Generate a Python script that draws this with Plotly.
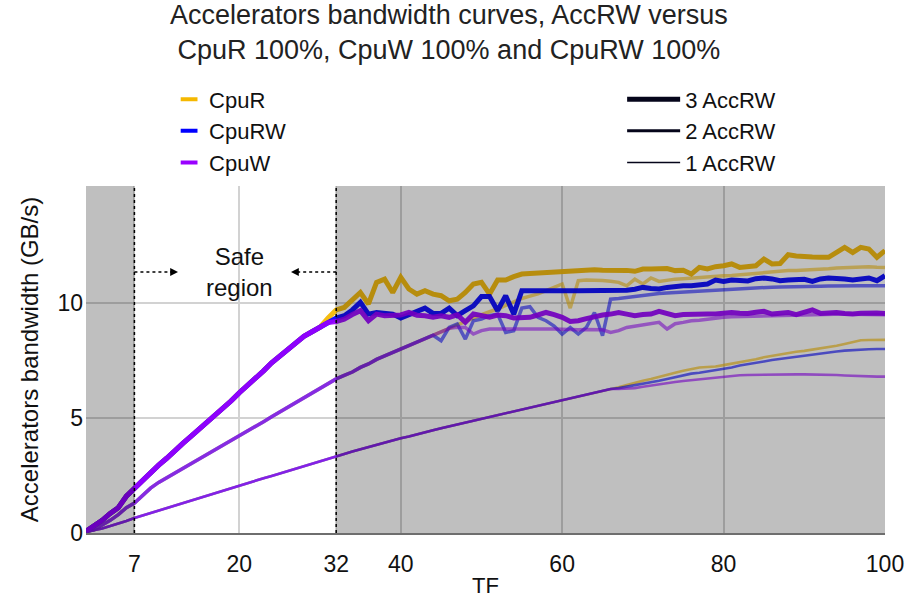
import plotly.graph_objects as go

# ---------------- data ----------------
tf = list(range(1, 101))
x_ticks = [7, 20, 32, 40, 60, 80, 100]
y_ticks = [0, 5, 10]
safe_start, safe_end = 7, 32

series_names = ["CpuR", "CpuRW", "CpuW"]
acc_names = ["3 AccRW", "2 AccRW", "1 AccRW"]

# 3 AccRW
acc3_rise = [0.08, 0.3, 0.55, 0.85, 1.1, 1.6, 1.95, 2.25, 2.6, 2.95, 3.25, 3.6, 3.9, 4.2, 4.5,
             4.8, 5.1, 5.45, 5.75, 6.1, 6.4, 6.75, 7.05, 7.4, 7.7, 8.0, 8.3, 8.55, 8.75, 8.95]
cpur_acc3_tail = [9.35, 9.7, 9.81, 10.1, 10.46, 9.96, 10.9, 11.04, 10.46, 11.12,
                  10.61, 10.39, 10.54, 10.39, 10.32, 10.1, 10.17, 10.46, 10.83, 10.9,
                  10.39, 11.0, 11.0, 11.15, 11.26, 11.28, 11.3, 11.33, 11.36, 11.4,
                  11.41, 11.43, 11.43, 11.45, 11.43, 11.44, 11.45, 11.42, 11.38, 11.48,
                  11.48, 11.5, 11.5, 11.41, 11.43, 11.26, 11.55, 11.48, 11.58, 11.62,
                  11.7, 11.55, 11.6, 11.62, 11.91, 11.7, 11.72, 12.1, 12.05, 12.01,
                  12.0, 11.99, 11.99, 12.2, 12.42, 12.2, 12.42, 12.35, 11.99, 12.28]
cpurw_acc3_tail = [9.2, 9.35, 9.45, 9.7, 10.03, 9.52, 9.59, 9.55, 9.52, 9.35,
                   9.5, 9.65, 9.78, 9.55, 9.55, 9.78, 9.45, 9.67, 9.88, 10.28,
                   10.28, 9.67, 10.32, 9.52, 10.54, 10.54, 10.53, 10.53, 10.54, 10.54,
                   10.53, 10.54, 10.54, 10.53, 10.52, 10.51, 10.54, 10.56, 10.6, 10.68,
                   10.63, 10.61, 10.68, 10.73, 10.75, 10.75, 10.8, 10.83, 11.0, 10.94,
                   11.0, 10.97, 10.96, 11.06, 11.09, 11.05, 10.97, 11.0, 11.02, 11.03,
                   10.94, 11.05, 11.09, 11.09, 11.05, 11.0, 11.06, 11.09, 10.97, 11.19]
cpuw_acc3_tail = [9.15, 9.2, 9.3, 9.5, 9.67, 9.23, 9.52, 9.45, 9.47, 9.48,
                  9.59, 9.47, 9.45, 9.38, 9.45, 9.38, 9.49, 9.16, 9.52, 9.45,
                  9.38, 9.48, 9.45, 9.35, 9.36, 9.38, 9.48, 9.59, 9.5, 9.38,
                  9.2, 9.23, 9.32, 9.41, 9.48, 9.52, 9.59, 9.52, 9.45, 9.5,
                  9.52, 9.64, 9.52, 9.45, 9.5, 9.52, 9.5, 9.52, 9.52, 9.55,
                  9.59, 9.56, 9.55, 9.6, 9.64, 9.52, 9.55, 9.59, 9.49, 9.6,
                  9.7, 9.55, 9.57, 9.59, 9.55, 9.52, 9.56, 9.59, 9.57, 9.55]

# 2 AccRW
acc2_rise = [0.05, 0.15, 0.35, 0.55, 0.8, 1.1, 1.3, 1.65, 1.95, 2.2,
             2.4, 2.6, 2.8, 3.0, 3.2, 3.4, 3.6, 3.8, 4.0, 4.2,
             4.42, 4.63, 4.84, 5.05, 5.26, 5.47, 5.68, 5.9, 6.1, 6.3,
             6.5, 6.7, 6.85, 7.0, 7.2, 7.35, 7.55, 7.7, 7.85, 8.0,
             8.15, 8.3, 8.45]
cpur_acc2_tail = [8.6, 8.75, 8.9, 9.05, 9.2, 9.38, 9.5,
                  9.62, 9.74, 9.9, 10.05, 10.2, 10.3, 10.4, 10.54, 10.7, 10.83,
                  9.78, 10.97, 11.0, 11.0, 10.98, 10.95, 10.9, 10.75, 11.04, 10.83,
                  11.09, 10.94, 11.0, 11.04, 11.06, 11.09, 11.12, 11.15, 11.19, 11.19,
                  11.2, 11.23, 11.26, 11.29, 11.33, 11.36, 11.4, 11.41, 11.42, 11.43,
                  11.45, 11.47, 11.49, 11.52, 11.54, 11.56, 11.57, 11.58, 11.56, 11.55]
cpurw_acc2_tail = [8.6, 8.36, 8.94, 9.09, 8.43, 9.23, 9.3,
                   9.45, 9.52, 8.72, 8.8, 9.78, 9.84, 9.38, 9.23, 9.0, 8.65,
                   8.94, 8.65, 8.94, 9.59, 8.58, 10.17, 10.2, 10.25, 10.3, 10.35,
                   10.4, 10.42, 10.44, 10.46, 10.48, 10.51, 10.52, 10.54, 10.56, 10.6,
                   10.61, 10.63, 10.65, 10.67, 10.68, 10.69, 10.7, 10.7, 10.71, 10.71,
                   10.72, 10.73, 10.74, 10.75, 10.75, 10.75, 10.75, 10.75, 10.75, 10.75]
cpuw_acc2_tail = [8.6, 8.75, 8.9, 8.95, 8.94, 8.65, 8.8,
                  8.87, 8.88, 8.88, 8.87, 8.87, 8.88, 8.88, 8.87, 8.87, 8.85,
                  8.85, 8.84, 8.85, 8.84, 8.84, 8.72, 8.8, 8.94, 8.99, 9.04,
                  9.09, 9.16, 8.87, 9.1, 9.16, 9.23, 9.25, 9.3, 9.33, 9.38,
                  9.4, 9.41, 9.43, 9.44, 9.45, 9.46, 9.47, 9.48, 9.48, 9.49,
                  9.5, 9.5, 9.51, 9.52, 9.52, 9.51, 9.5, 9.5, 9.49, 9.49]

# 1 AccRW
acc1_rise = [0.05, 0.12, 0.2, 0.3, 0.4, 0.52, 0.65, 0.76, 0.87, 0.97,
             1.08, 1.19, 1.3, 1.41, 1.51, 1.62, 1.73, 1.84, 1.94, 2.05,
             2.16, 2.27, 2.38, 2.48, 2.59, 2.7, 2.8, 2.91, 3.02, 3.13,
             3.24, 3.35, 3.44, 3.54, 3.64, 3.73, 3.83, 3.93, 4.02, 4.12,
             4.2, 4.3, 4.38, 4.47, 4.56, 4.64, 4.73, 4.82, 4.9, 4.99,
             5.07, 5.15, 5.23, 5.31, 5.39, 5.47, 5.55, 5.62, 5.7, 5.78,
             5.86, 5.94, 6.02, 6.1, 6.18, 6.26]
cpur_acc1_tail = [6.34, 6.44, 6.54, 6.62, 6.7, 6.8, 6.88, 6.97, 7.06, 7.14,
                  7.2, 7.22, 7.24, 7.3, 7.36, 7.44, 7.5, 7.56, 7.64, 7.7,
                  7.76, 7.84, 7.88, 7.92, 7.97, 8.03, 8.08, 8.14, 8.22, 8.3,
                  8.38, 8.39, 8.4, 8.4]
cpurw_acc1_tail = [6.3, 6.36, 6.41, 6.47, 6.55, 6.62, 6.7, 6.78, 6.86, 6.93,
                   6.97, 7.02, 7.08, 7.12, 7.2, 7.28, 7.35, 7.4, 7.46, 7.52,
                   7.57, 7.62, 7.67, 7.72, 7.77, 7.81, 7.85, 7.89, 7.93, 7.96,
                   7.98, 7.99, 8.0, 8.0]
cpuw_acc1_tail = [6.26, 6.28, 6.3, 6.36, 6.42, 6.47, 6.52, 6.57, 6.61, 6.65,
                  6.69, 6.73, 6.77, 6.8, 6.83, 6.86, 6.87, 6.88, 6.89, 6.9,
                  6.9, 6.9, 6.9, 6.9, 6.9, 6.89, 6.88, 6.87, 6.85, 6.83,
                  6.82, 6.8, 6.8, 6.8]

curves = {
    ("CpuR", "3 AccRW"): acc3_rise + cpur_acc3_tail,
    ("CpuRW", "3 AccRW"): acc3_rise + cpurw_acc3_tail,
    ("CpuW", "3 AccRW"): acc3_rise + cpuw_acc3_tail,
    ("CpuR", "2 AccRW"): acc2_rise + cpur_acc2_tail,
    ("CpuRW", "2 AccRW"): acc2_rise + cpurw_acc2_tail,
    ("CpuW", "2 AccRW"): acc2_rise + cpuw_acc2_tail,
    ("CpuR", "1 AccRW"): acc1_rise + cpur_acc1_tail,
    ("CpuRW", "1 AccRW"): acc1_rise + cpurw_acc1_tail,
    ("CpuW", "1 AccRW"): acc1_rise + cpuw_acc1_tail,
}
for k, v in curves.items():
    assert len(v) == len(tf), (k, len(v))

# ---------------- style ----------------
FONT = "Liberation Sans, Arial, sans-serif"
colors = {"CpuR": "#f5b800", "CpuRW": "#0000ff", "CpuW": "#9900ff"}
widths = {"3 AccRW": 5, "2 AccRW": 3.5, "1 AccRW": 2.6}
opac = {"3 AccRW": 0.92, "2 AccRW": 0.55, "1 AccRW": 0.6}
legend_widths = {"3 AccRW": 5, "2 AccRW": 3, "1 AccRW": 1.6}

fig = go.Figure()
for acc in ["1 AccRW", "2 AccRW", "3 AccRW"]:
    for s in series_names:
        fig.add_trace(go.Scatter(
            x=tf, y=curves[(s, acc)], mode="lines",
            line=dict(color=colors[s], width=widths[acc]),
            opacity=opac[acc], showlegend=False, hoverinfo="skip"))

# legend: colours
for s in series_names:
    fig.add_trace(go.Scatter(
        x=[None], y=[None], mode="markers", name=s, legend="legend",
        marker=dict(symbol="line-ew", size=12, line=dict(color=colors[s], width=4))))
# legend: widths
for acc in acc_names:
    fig.add_trace(go.Scatter(
        x=[None], y=[None], mode="lines", name=acc, legend="legend2",
        line=dict(color="#05051a", width=legend_widths[acc])))

shapes = [
    dict(type="rect", xref="x", yref="paper", x0=1, x1=safe_start, y0=0, y1=1,
         fillcolor="rgba(0,0,0,0.25)", line=dict(width=0), layer="above"),
    dict(type="rect", xref="x", yref="paper", x0=safe_end, x1=100, y0=0, y1=1,
         fillcolor="rgba(0,0,0,0.25)", line=dict(width=0), layer="above"),
    dict(type="line", xref="x", yref="paper", x0=safe_start, x1=safe_start, y0=0, y1=1,
         line=dict(color="black", width=1.5, dash="dot"), layer="above"),
    dict(type="line", xref="x", yref="paper", x0=safe_end, x1=safe_end, y0=0, y1=1,
         line=dict(color="black", width=1.5, dash="dot"), layer="above"),
    dict(type="line", xref="x", yref="y", x0=safe_start, x1=11.6, y0=11.35, y1=11.35,
         line=dict(color="black", width=1.3, dash="dot"), layer="above"),
    dict(type="line", xref="x", yref="y", x0=safe_end, x1=27.2, y0=11.35, y1=11.35,
         line=dict(color="black", width=1.3, dash="dot"), layer="above"),
]

annotations = [
    dict(text="Accelerators bandwidth curves, AccRW versus<br>CpuR 100%, CpuW 100% and CpuRW 100%",
         x=0.454, y=1.542, xref="paper", yref="paper", xanchor="center", yanchor="top",
         showarrow=False, font=dict(family=FONT, size=27, color="#222")),
    dict(x=20, y=11.35, xref="x", yref="y", text="Safe<br>region", showarrow=False,
         font=dict(family=FONT, size=24, color="#111")),
    dict(x=12.4, y=11.35, xref="x", yref="y", ax=11.3, ay=11.35, axref="x", ayref="y",
         text="", showarrow=True, arrowhead=2, arrowsize=1.2, arrowwidth=1.3, arrowcolor="black"),
    dict(x=26.4, y=11.35, xref="x", yref="y", ax=27.5, ay=11.35, axref="x", ayref="y",
         text="", showarrow=True, arrowhead=2, arrowsize=1.2, arrowwidth=1.3, arrowcolor="black"),
]

fig.update_layout(
    width=908, height=601,
    margin=dict(l=86, r=23, t=186, b=68),
    paper_bgcolor="white", plot_bgcolor="white",
    font=dict(family=FONT, size=22, color="#111"),
    xaxis=dict(range=[1, 100], tickvals=x_ticks, ticktext=[str(t) for t in x_ticks],
               showgrid=True, gridcolor="#d2d2d2", gridwidth=1.5, zeroline=False,
               showline=True, linecolor="#6e6e6e", linewidth=2, ticks="",
               tickfont=dict(family=FONT, size=23), automargin=False,
               ticklabelstandoff=9,
               title=dict(text="TF", font=dict(family=FONT, size=22), standoff=2)),
    yaxis=dict(range=[0, 15.09], tickvals=y_ticks, showgrid=True, gridcolor="#d2d2d2",
               gridwidth=1.5, zeroline=False, showline=False, ticks="",
               tickfont=dict(family=FONT, size=23), automargin=False,
               ticklabelstandoff=2,
               title=dict(text="Accelerators bandwidth (GB/s)", font=dict(family=FONT, size=24),
                          standoff=12)),
    legend=dict(x=0.104, y=1.31, xanchor="left", yanchor="top", bgcolor="rgba(0,0,0,0)",
                font=dict(family=FONT, size=22, color="#111"), tracegroupgap=0),
    legend2=dict(x=0.671, y=1.31, xanchor="left", yanchor="top", bgcolor="rgba(0,0,0,0)",
                 font=dict(family=FONT, size=22, color="#111"), itemwidth=53),
    shapes=shapes, annotations=annotations,
)

fig.write_html("out.html")
